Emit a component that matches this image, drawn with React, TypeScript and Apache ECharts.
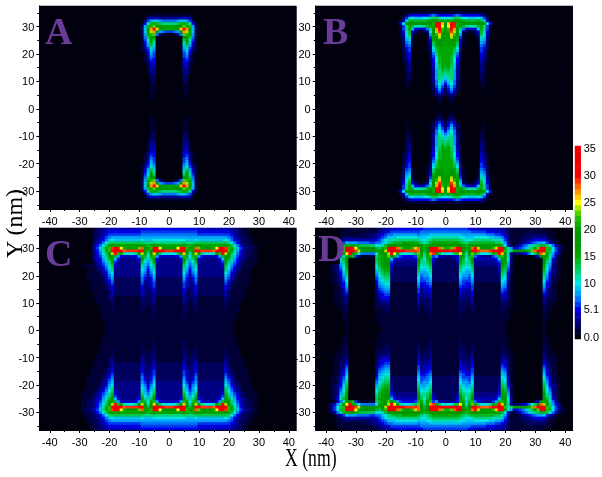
import React, { useEffect, useRef } from "react";
import * as echarts from "echarts";

// Values in base 36 (0-9, a=10 ... z=35). Rows run from y=37 down to y=1; columns from |x|=0 outward.
// Spaces only separate the groups of columns; the bottom half of each panel reads as the mirror of the top.
const panelARows = [
  "0", "0", "0",
  "111111110",
  "3333444310",
  "7778998620",
  "cccdefeb510",
  "ggghjnle820",
  "ffgjqwrh920",
  "6678krog920",
  "00137nmf820",
  "00001hkd710",
  "00000dib610",
  "00000bf9510",
  "000009d8410",
  "000008b6310",
  "00000795210",
  "0000068410",
  "0000067310",
  "0000056310",
  "000005521",
  "000004410",
  "000004410",
  "000003310",
  "000003310",
  "00000220",
  "00000220",
  "00000220",
  "00000110",
  "00000110",
  "00000110",
  "00000110",
  "0000001",
  "0000001",
  "0",
  "0",
  "0",
];

const panelBRows = [
  "0", "0",
  "1111221111111100",
  "5556765555554210",
  "aabddcaa999a96200",
  "ehlkhgfeeeefe9410",
  "iqyulihhhhhhhha510",
  "ipyvlgecbbbefc610",
  "gmwrjc75445 9fc610",
  "gltohA311125eb510".replace("A", "a"),
  "gkqmg8100013da410",
  "gioJg6100002b9310".replace("J", "j"),
  "ghkif51000019 8300",
  "fgigd41000018 7200",
  "fgggc31000017 6200",
  "fffea31000006 5200",
  "fffd920000006 4100",
  "fffc720000005 4100",
  "ffeb620000005 3100",
  "ffea520000004 3100",
  "ffea510000004 2100",
  "ffd9410000003 2000",
  "efd9410000003 2000",
  "dec8310000003 2000",
  "cdc8310000002 2000",
  "bcc8310000002 1000",
  "9bc8310000002 1000",
  "79b7310000001 1000",
  "58a7210000001 1000",
  "36962100000001000",
  "25852100000001000",
  "24641",
  "12321",
  "0121",
  "011",
  "001",
  "0",
];

const panelCRows = [
  "55555 55555 444444444 44332211000",
  "66666 66666 555555555 55433211000",
  "77777 77777 666666666 66543221100",
  "88888 88888 888888888 87643221100",
  "aaaaa a999a 999999999 a9754322110",
  "ccccc dcccd ddddddddd dca75322110",
  "fffff gfefg ggfffffff gfda7532211",
  "jjkpw xmhks nkjjklpvx tmfc9643221",
  "ttuvy wkeku uttttsvxz umfb8532211",
  "aaadk qhbgo kcaaabfmu oida7532211",
  "44458 mfael 854444 58e kgc96432211",
  "33335 hd9ch 543333 359 heb85432111",
  "33334 fb8ae 433333 346 fc975321111",
  "33333 da79c 333333 335 eb864321111",
  "33333 c968b 333333 334 da753211110",
  "33333 b858a 333333 333 c964321110",
  "33333 a7479 333333 333 a853211110",
  "33333 96468 333333 333 9743211110",
  "22222 85357 222222 222 8642111110",
  "22222 75347 222222 222 7532111110",
  "22222 64336 222222 222 6422111100",
  "22222 64335 222222 222 5321111100",
  "22222 53235 222222 222 5321111100",
  "22222 53234 222222 222 4211111000",
  "22222 42234 222222 222 4211111000",
  "11111 42223 111111 111 3211111000",
  "11111 32223 111111 111 3211110000",
  "11111 32122 111111 111 2111110000",
  "11111 22122 111111 111 2111100000",
  "11111 22112 111111 111 2111100000",
  "11111 21112 111111 111 1111100000",
  "11111 21111 111111 111 1111000000",
  "11111 21111 111111 111 1111000000",
  "11111 11111 111111 111 1111000000",
  "11111 11111 111111 111 1110000000",
  "11111 11111 111111 111 1110000000",
  "11111 11111 111111 111 1110000000",
];

// Panel D: groups are |x| 0-4, 5-9, 10-18, 19-23, 24-32, 33-42.
const panelDRight = [
  "66666 66655 444444444 33111 111111111 1000000000",
  "77777 77776 666655544 43211 111112111 1110000000",
  "99999 98888 888877766 54211 111222222 2111000000",
  "bbbbb aa999 aaaaa9988 75311 112223333 3211000000",
  "ddddd cbaab ccccccbbb 96311 122334555 5321100000",
  "fffff edcde eeeeeeedd b8411 123456788 9643100000",
  "hhhhh hgegg hhhgggggg ea511 34679bcde eda7421000",
  "llnsw xjgjs uokjjjmqw wgb84 5679bdhnv xmea631100",
  "uuvxy uieiu wtssstvxz wmbcg ijjklnswz xmda631000",
  "aaadm pgbgn lcaaabfmu qhb31 33457adhs oic8531000",
  "33345 kf9em 754333 68e mkb40 00000025h hgb7410000",
  "22235 jeadi 444444459 jha30 000000001 ieb5210000",
  "22224 gdbcg 333333346 hg930 000000000 hc94210000",
  "22223 ecbbe 333333335 gf820 000000000 gb83210000",
  "22222 dbaad 222222224 fe720 000000000 fa73210000",
  "22222 ca99c 222222224 ed620 000000000 ea63210000",
  "22222 b988b 222222223 dc520 000000000 d9532100",
  "22222 a887a 222222223 cb510 000000000 c8521100",
  "22222 97769 222222222 ba410 000000000 b7421100",
  "22222 86668 222222222 a9410 000000000 a6421100",
  "11111 76557 111111111 98310 000000000 9531100",
  "11111 65546 111111111 87310 000000000 8531100",
  "11111 54436 111111111 76310 000000000 7421100",
  "11111 54335 111111111 65210 000000000 6321100",
  "11111 43335 111111111 54210 000000000 5321100",
  "11111 43324 111111111 44210 000000000 4221100",
  "11111 32224 111111111 33210 000000000 3211100",
  "11111 32223 111111111 32110 000000000 3211000",
  "11111 32213 111111111 22110 000000000 2111000",
  "11111 22113 111111111 21110 000000000 2110000",
  "11111 22112 111111111 21100 000000000 2110000",
  "11111 21112 111111111 11100 000000000 1100000",
  "11111 21111 111111111 11100 000000000 1100000",
  "11111 11111 111111111 11100 000000000 1100000",
  "11111 11111 111111111 11000 000000000 1000000",
  "11111 11111 111111111 11000 000000000 1000000",
  "11111 11111 111111111 11000 000000000 1000000",
];

const panelDLeft = [
  "66666 66655 555555544 43321 111111111 1100000000",
  "77777 77776 666666666 54432 211111111 1111000000",
  "99999 98887 888888887 76543 322211111 1111000000",
  "bbbbb aa999 aaaaaaa99 97653 332222222 3211000000",
  "ddddd cbaac cccccccbb ba865 444444444 4321100000",
  "fffff ecbce fffffeeed ca977 667777888 9643100000",
  "hhhhh gfegi jhhhhhhhj hebaa ccdddeeff feb7421000",
  "mnsvw xjfjs qmkklnsvx xmfde hhiijlpux xmea631000",
  "uuwxz uieis ttttuvwyz yohfg iiijkotxz xmda631000",
  "aadgt rgcgn dbaaabfpv oigga 77777aekv pic8531000",
  "44486 mfbfm 655556 8ei ngfec 11111 26m kgb7410000",
  "22235 jeadj 444444459 khgfd 000000000 ieb5210000",
  "22224 gdbch 333333346 ihgec 000000000 hc94210000",
  "22223 ecbbf 333333335 hgfeb 000000000 gb83210000",
  "22222 dbaae 222222224 ggfda 000000000 fa73210000",
  "22222 ca99d 222222224 ffec9 000000000 ea63210000",
  "22222 b988c 222222223 eedb8 000000000 d9532100",
  "22222 a887b 222222223 ddca7 000000000 c8521100",
  "22222 9776a 222222222 ccb96 000000000 b7421100",
  "22222 87669 222222222 bba95 000000000 a6421100",
  "11111 76558 111111111 aa984 000000000 9531100",
  "11111 65547 111111111 99873 000000000 8531100",
  "11111 54436 111111111 88763 000000000 7421100",
  "11111 54436 111111111 77653 000000000 6321100",
  "11111 43335 111111111 66542 000000000 5321100",
  "11111 43325 111111111 55542 000000000 4221100",
  "11111 32224 111111111 44432 000000000 3211100",
  "11111 32224 111111111 33322 000000000 3211000",
  "11111 32213 111111111 32222 000000000 2111000",
  "11111 22113 111111111 22211 000000000 2110000",
  "11111 22112 111111111 22111 000000000 2110000",
  "11111 21112 111111111 21111 000000000 1100000",
  "11111 21111 111111111 11111 000000000 1100000",
  "11111 11111 111111111 11110 000000000 1100000",
  "11111 11111 111111111 11110 000000000 1000000",
  "11111 11111 111111111 11110 000000000 1000000",
  "11111 11111 111111111 11100 000000000 1000000",
];

const panelLetters = ["A", "B", "C", "D"];
const xTicks = [-40, -30, -20, -10, 0, 10, 20, 30, 40];
const xMinorTicks = [-35, -25, -15, -5, 5, 15, 25, 35];
const yTicks = [-30, -20, -10, 0, 10, 20, 30];
const yMinorTicks = [-35, -25, -15, -5, 5, 15, 25, 35];
const barTickValues = [0, 5.1, 10, 15, 20, 25, 30, 35];
const barTickLabels = ["0.0", "5.1", "10", "15", "20", "25", "30", "35"];
const barLevels = [
  0, 1, 2, 3, 4, 5, 6, 7, 8, 9, 10, 11, 12, 13, 14, 15, 16, 17, 18, 19, 20, 21, 22, 23, 24, 25, 26, 27, 28, 29, 30, 31,
  32, 33, 34, 35,
];
const rampColors = [
  "#00000f", "#000070", "#0000e6", "#0090ff", "#00e6e6", "#00d060", "#00a800", "#009400",
  "#009c00", "#28c400", "#ffff00", "#ff7a00", "#ff0000", "#f00000", "#e80000",
];
const INK = "#000";
const tickFont = "'Liberation Sans Narrow', 'Liberation Sans', Arial, sans-serif";
const serif = "'Liberation Serif', serif";
const purple = "#6a3c98";

const xCats = Array.from({ length: 86 }, (_, i) => String(i - 43));
const yCats = Array.from({ length: 74 }, (_, i) => String(i - 36));

const parse = (row: string) =>
  row
    .replace(/ /g, "")
    .padEnd(44, "0")
    .split("")
    .map((c) => parseInt(c, 36) || 0);

function cells(right: string[], left: string[]) {
  const out: number[][] = [];
  const place = (yIdx: number, r: number[], l: number[]) => {
    for (let xi = 0; xi < 86; xi++) {
      const x = xi - 43;
      out.push([xi, yIdx, x < 0 ? l[-x] : r[x]]);
    }
  };
  right.forEach((row, i) => {
    const y = 37 - i;
    const r = parse(row);
    const l = parse(left[i]);
    place(y + 36, r, l);
    place(1 - y + 36, r, l);
  });
  return out;
}

const panels = [
  { rows: cells(panelARows, panelARows), left: 39.3, top: 6, height: 203 },
  { rows: cells(panelBRows, panelBRows), left: 315.7, top: 6, height: 203 },
  { rows: cells(panelCRows, panelCRows), left: 39.3, top: 228, height: 202 },
  { rows: cells(panelDRight, panelDLeft), left: 315.7, top: 228, height: 202 },
];

function buildOption() {
  const grid: any[] = [];
  const xAxis: any[] = [];
  const yAxis: any[] = [];
  const series: any[] = [];
  const label = { color: INK, fontFamily: tickFont, fontSize: 11 };
  panels.forEach((p, i) => {
    grid.push({ left: p.left, top: p.top, width: 257, height: p.height, backgroundColor: "#00000f", show: true, borderWidth: 0 });
    const base = xAxis.length;
    xAxis.push(
      { type: "category", gridIndex: i, data: xCats, show: false },
      {
        type: "value", gridIndex: i, min: -43.5, max: 42.5, position: "bottom", splitLine: { show: false },
        axisLine: { show: true, onZero: false, lineStyle: { color: INK } },
        axisTick: { show: true, length: 3, customValues: xTicks, lineStyle: { color: INK } },
        axisLabel: { ...label, margin: 6, customValues: xTicks },
      },
      {
        type: "value", gridIndex: i, min: -43.5, max: 42.5, position: "bottom", splitLine: { show: false },
        axisLine: { show: false, onZero: false },
        axisTick: { show: true, length: 2, customValues: xMinorTicks, lineStyle: { color: INK } },
        axisLabel: { show: false },
      }
    );
    yAxis.push(
      { type: "category", gridIndex: i, data: yCats, show: false },
      {
        type: "value", gridIndex: i, min: -36.5, max: 37.5, position: "left", splitLine: { show: false },
        axisLine: { show: true, onZero: false, lineStyle: { color: INK } },
        axisTick: { show: true, length: 3, customValues: yTicks, lineStyle: { color: INK } },
        axisLabel: { ...label, margin: 5, customValues: yTicks },
      },
      {
        type: "value", gridIndex: i, min: -36.5, max: 37.5, position: "left", splitLine: { show: false },
        axisLine: { show: false, onZero: false },
        axisTick: { show: true, length: 2, customValues: yMinorTicks, lineStyle: { color: INK } },
        axisLabel: { show: false },
      }
    );
    series.push({
      type: "heatmap", name: panelLetters[i], xAxisIndex: base, yAxisIndex: base, data: p.rows, progressive: 0,
      emphasis: { disabled: true }, itemStyle: { borderWidth: 0 },
    });
    // empty series keep the tick-only axes alive
    series.push({ type: "line", xAxisIndex: base + 1, yAxisIndex: base + 1, data: [], silent: true });
    series.push({ type: "line", xAxisIndex: base + 2, yAxisIndex: base + 2, data: [], silent: true });
  });
  // colour bar
  grid.push({ left: 575, top: 146, width: 6.5, height: 193, show: false });
  const barBase = xAxis.length;
  xAxis.push({ type: "category", gridIndex: 4, data: ["bar"], show: false });
  yAxis.push({ type: "category", gridIndex: 4, data: barLevels.map(String), show: false });
  xAxis.push({ type: "value", gridIndex: 4, show: false });
  yAxis.push({
    type: "value", gridIndex: 4, min: -0.4, max: 35.4, position: "right", splitLine: { show: false },
    axisLine: { show: false }, axisTick: { show: false },
    axisLabel: {
      ...label, margin: 3, customValues: barTickValues,
      formatter: (v: number) => barTickLabels[barTickValues.indexOf(v)] ?? "",
    },
  });
  series.push({
    type: "heatmap", name: "bar", xAxisIndex: barBase, yAxisIndex: barBase,
    data: barLevels.map((v, i) => [0, i, v]), progressive: 0, emphasis: { disabled: true },
  });
  series.push({ type: "line", xAxisIndex: barBase + 1, yAxisIndex: barBase + 1, data: [], silent: true });

  const letterPos = [
    [45, 50],
    [323, 50],
    [45, 272],
    [318, 267],
  ];
  const graphic: any[] = [
    { type: "rect", z: 50, shape: { x: 39.5, y: 228, width: 53, height: 36 }, style: { fill: "#00000f" } },
    { type: "rect", z: 50, shape: { x: 316, y: 228, width: 24, height: 36 }, style: { fill: "#00000f" } },
    ...panelLetters.map((t, i) => ({
      type: "text", z: 60, x: letterPos[i][0], y: letterPos[i][1],
      style: { text: t, fill: purple, font: `bold 38px ${serif}`, textVerticalAlign: "bottom" },
    })),
    {
      type: "text", z: 60, x: 2, y: 258, rotation: Math.PI / 2,
      style: { text: "Y (nm)", fill: "#000", font: `24px ${serif}`, textVerticalAlign: "top" },
    },
    {
      type: "text", z: 60, x: 285, y: 444, scaleX: 0.68,
      style: { text: "X (nm)", fill: "#000", font: `26px ${serif}`, textVerticalAlign: "top" },
    },
  ];

  return {
    animation: false,
    backgroundColor: "#fff",
    grid,
    xAxis,
    yAxis,
    series,
    graphic,
    visualMap: {
      type: "continuous", show: false, min: 0, max: 35, dimension: 2,
      seriesIndex: series.map((s, i) => (s.type === "heatmap" ? i : -1)).filter((i) => i >= 0),
      inRange: { color: rampColors },
    },
  };
}

export default function App() {
  const ref = useRef<HTMLDivElement>(null);
  useEffect(() => {
    const chart = echarts.init(ref.current!, undefined, { renderer: "svg" });
    chart.setOption(buildOption() as any);
    return () => chart.dispose();
  }, []);
  return <div ref={ref} style={{ position: "fixed", left: 0, top: 0, width: 602, height: 477, filter: "blur(0.6px)" }} />;
}
